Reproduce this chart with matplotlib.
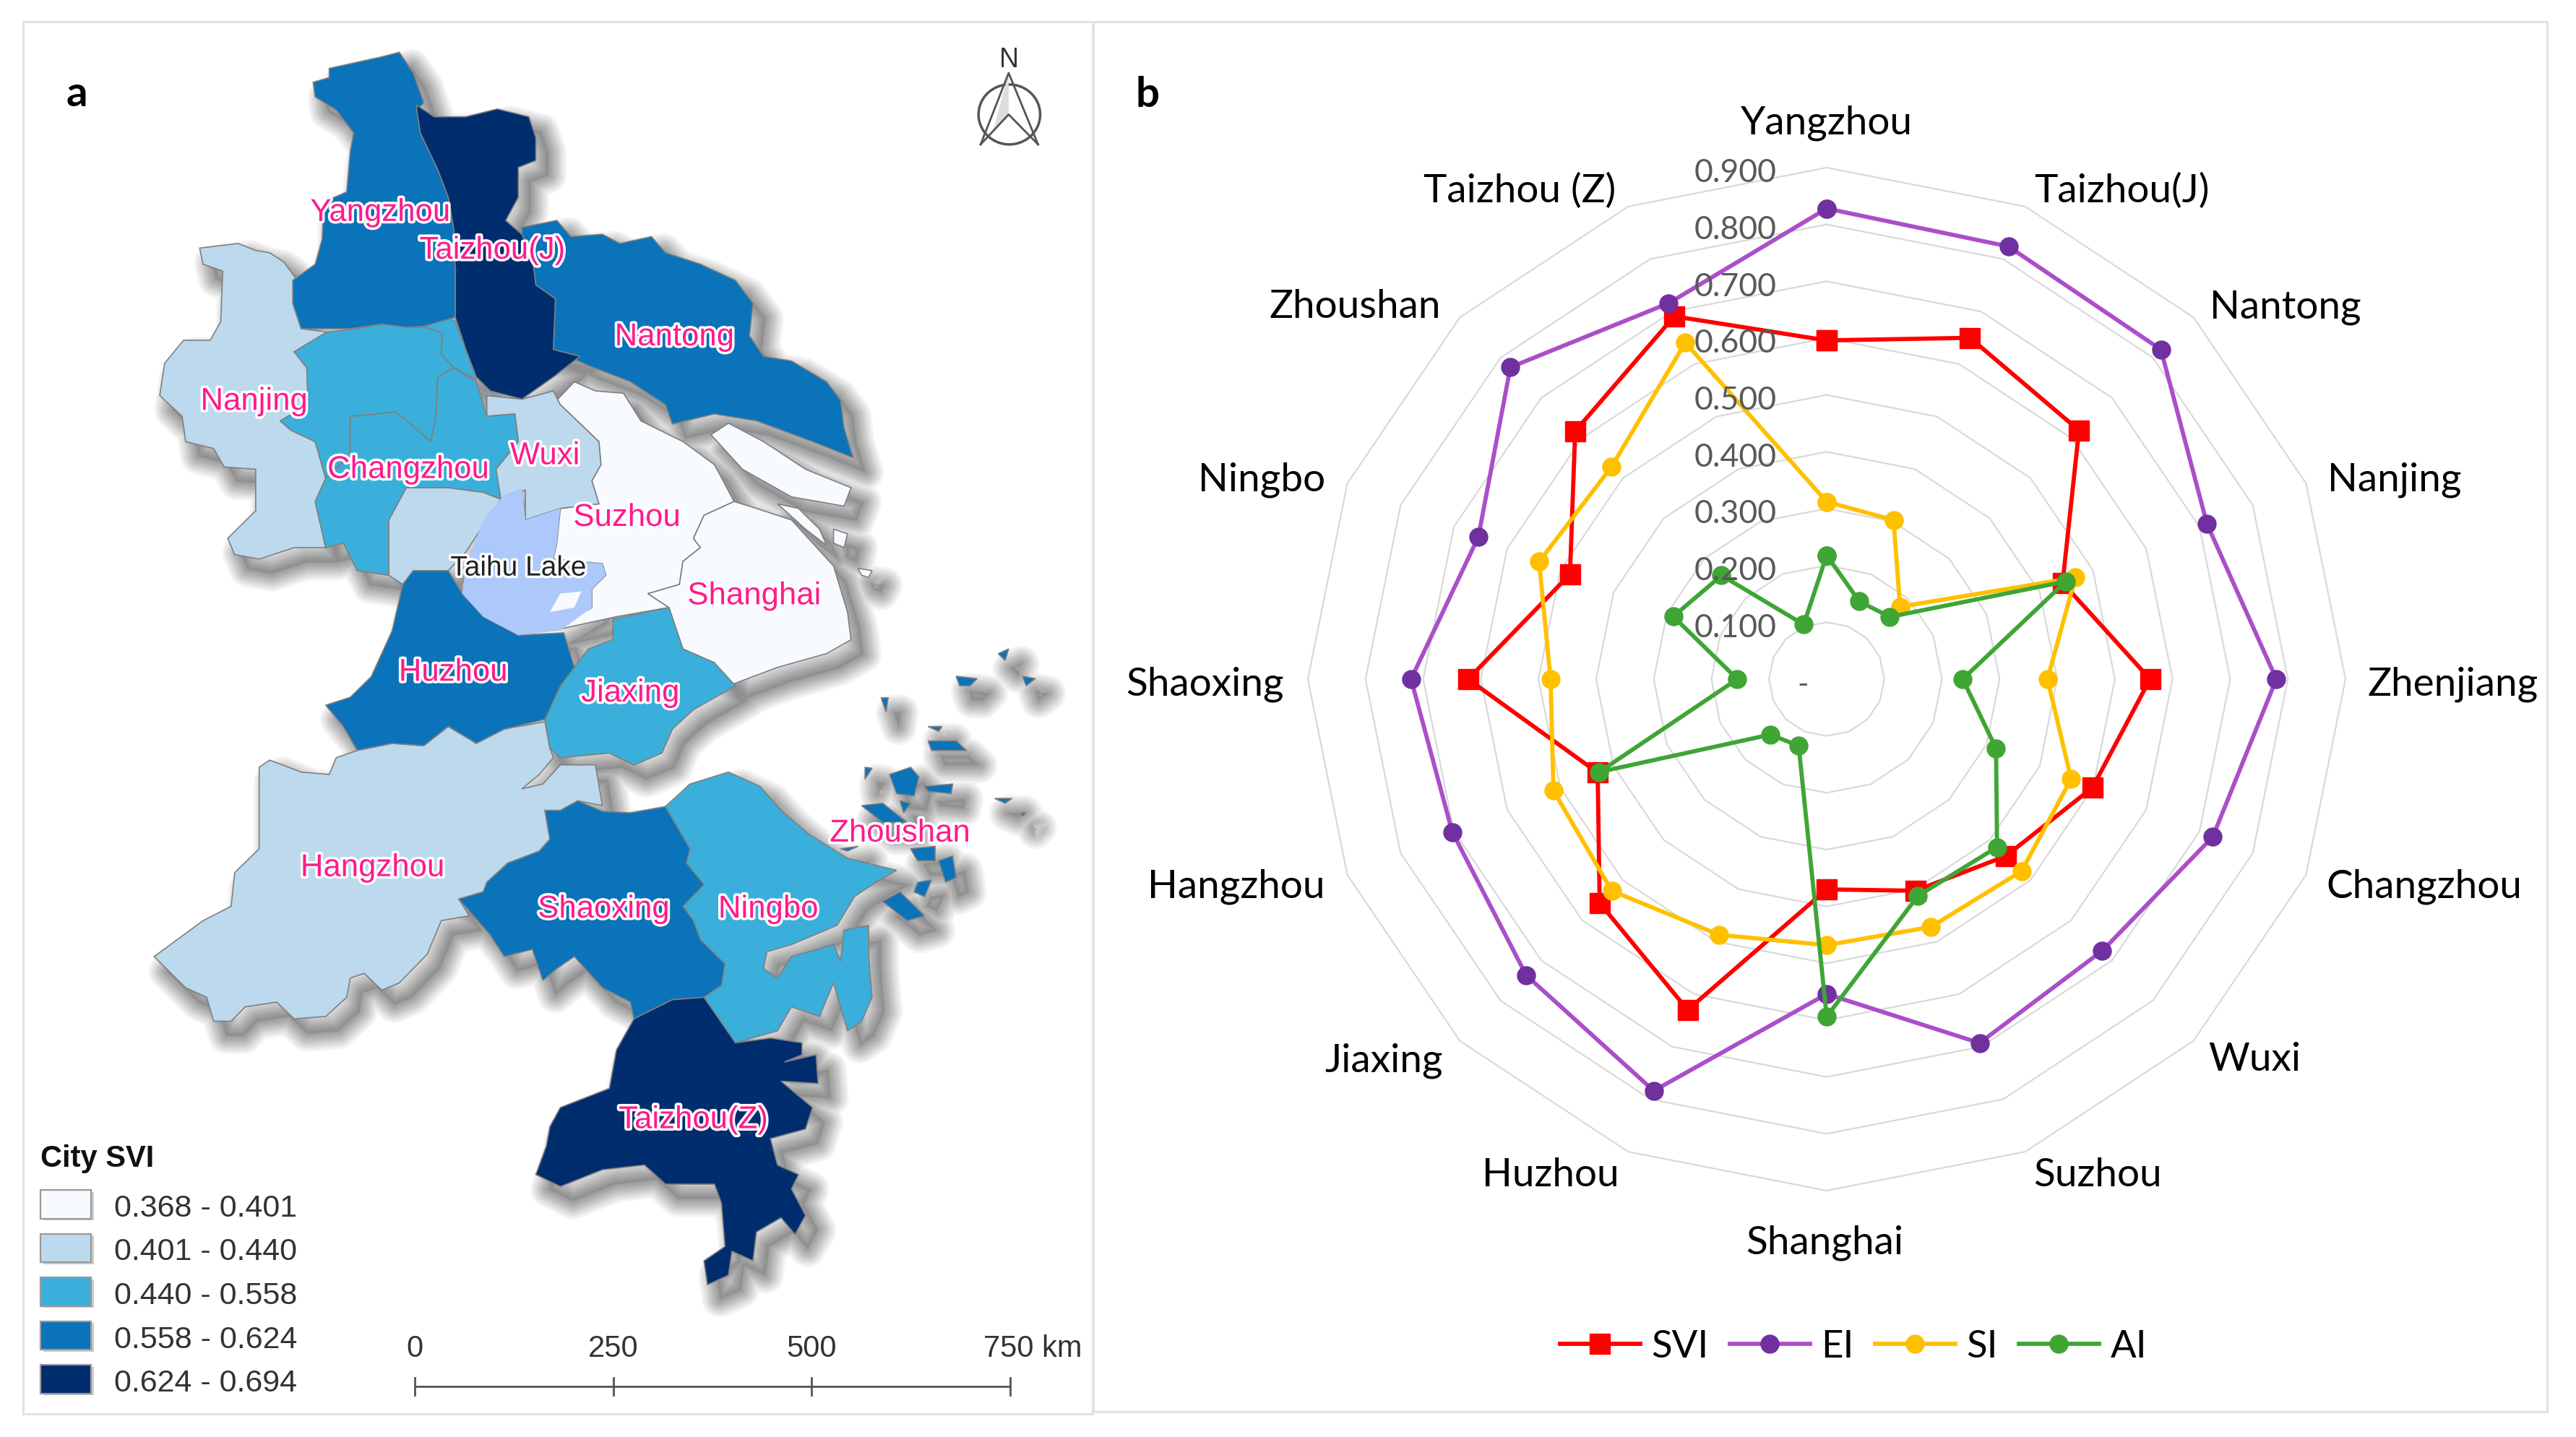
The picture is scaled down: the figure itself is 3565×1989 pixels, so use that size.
import numpy as np
import matplotlib
matplotlib.use('Agg')
import matplotlib.pyplot as plt
from matplotlib.path import Path
from matplotlib.patches import PathPatch, Polygon, Rectangle, Ellipse
import matplotlib.patheffects as pe

W, H = 3566, 1990

# radar data, clockwise from the top
cities = ['Yangzhou', 'Taizhou(J)', 'Nantong', 'Nanjing', 'Zhenjiang', 'Changzhou', 'Wuxi', 'Suzhou',
          'Shanghai', 'Huzhou', 'Jiaxing', 'Hangzhou', 'Shaoxing', 'Ningbo', 'Zhoushan', 'Taizhou (Z)']
svi = [0.596, 0.650, 0.619, 0.443, 0.561, 0.499, 0.440, 0.403, 0.370, 0.630, 0.557, 0.430, 0.622, 0.482, 0.617, 0.691]
ei = [0.828, 0.824, 0.820, 0.714, 0.780, 0.725, 0.676, 0.693, 0.554, 0.784, 0.737, 0.703, 0.721, 0.654, 0.776, 0.716]
si = [0.312, 0.303, 0.180, 0.467, 0.383, 0.459, 0.478, 0.472, 0.468, 0.487, 0.527, 0.513, 0.479, 0.540, 0.528, 0.641]
ai = [0.218, 0.148, 0.155, 0.449, 0.236, 0.318, 0.418, 0.413, 0.594, 0.127, 0.138, 0.427, 0.155, 0.288, 0.258, 0.104]
rings = [0.1, 0.2, 0.3, 0.4, 0.5, 0.6, 0.7, 0.8, 0.9]
label_x = [2528, 2936, 3163, 3314, 3395, 3355, 3120, 2903, 2525, 2146, 1915, 1711, 1667, 1746, 1875, 2103]
label_y = [170, 264, 425, 664, 947, 1227, 1467, 1626, 1720, 1626, 1468, 1227, 947, 664, 425, 264]


def lower(pts):
    return [(x, 1490 + 1.04 * y) for x, y in pts]


# map outlines, in map units
yangzhou = [(470, 150), (545, 125), (570, 115), (590, 160), (605, 225), (595, 240), (600, 290), (625, 370), (640, 430),
            (648, 500), (650, 590), (650, 690), (605, 710), (580, 712), (545, 705), (500, 715), (430, 715), (418, 660),
            (418, 610), (450, 575), (460, 520), (462, 440), (495, 418), (500, 330), (505, 290), (480, 240), (450, 212),
            (447, 180), (470, 170)]
taizhou_j = [(595, 230), (620, 255), (665, 255), (710, 238), (755, 255), (765, 300), (765, 350), (740, 365), (740, 430),
             (722, 480), (745, 510), (760, 560), (765, 620), (793, 650), (790, 760), (828, 775), (790, 820), (745, 868),
             (700, 850), (680, 820), (665, 760), (650, 690), (650, 590), (648, 500), (640, 430), (625, 370), (600, 290),
             (595, 240)]
nantong = [(745, 495), (795, 480), (815, 515), (860, 510), (885, 530), (930, 515), (950, 550), (1000, 575), (1050, 610),
           (1075, 660), (1070, 730), (1090, 775), (1130, 785), (1180, 830), (1200, 870), (1205, 930), (1218, 995),
           (1160, 960), (1080, 915), (1020, 900), (960, 922), (950, 880), (900, 830), (840, 795), (790, 760), (793, 650),
           (765, 620), (760, 560), (745, 510)]
nanjing = [(285, 540), (340, 530), (365, 545), (385, 550), (405, 570), (422, 605), (418, 660), (430, 715), (467, 722),
           (420, 765), (438, 800), (440, 880), (400, 915), (415, 935), (450, 960), (465, 1040), (450, 1090), (465, 1190),
           (420, 1190), (370, 1215), (335, 1205), (325, 1170), (365, 1110), (365, 1020), (320, 1015), (305, 975),
           (265, 960), (260, 905), (228, 860), (235, 790), (262, 740), (300, 740), (315, 700), (318, 590), (290, 575)]
zhenjiang = [(420, 765), (467, 722), (510, 715), (545, 705), (580, 712), (608, 712), (632, 725), (630, 770), (648, 800),
             (625, 820), (622, 910), (615, 960), (565, 895), (540, 900), (500, 905), (500, 990), (465, 1040), (450, 960),
             (415, 935), (400, 915), (440, 880), (438, 800)]
yangzhong = [(608, 712), (628, 680), (650, 700), (665, 760), (680, 825), (648, 800), (630, 770), (632, 725)]
changzhou = [(500, 905), (540, 900), (565, 895), (615, 960), (622, 910), (625, 820), (648, 800), (680, 830), (695, 905),
             (735, 900), (740, 960), (708, 1020), (715, 1085), (690, 1070), (640, 1060), (580, 1060), (555, 1130),
             (555, 1250), (510, 1240), (490, 1180), (465, 1190), (450, 1090), (465, 1040), (500, 990)]
wuxi_n = [(695, 860), (745, 868), (790, 850), (800, 880), (855, 960), (858, 1010), (845, 1045), (855, 1095), (800, 1105),
          (750, 1130), (750, 1065), (715, 1085), (708, 1020), (740, 960), (735, 900), (695, 905)]
wuxi_s = [(580, 1060), (640, 1060), (690, 1070), (715, 1085), (695, 1130), (665, 1200), (640, 1240), (590, 1240),
          (575, 1270), (555, 1250), (555, 1130)]
suzhou = [(795, 870), (820, 830), (850, 850), (890, 855), (915, 915), (975, 960), (1020, 1010), (1048, 1090), (1005, 1120),
          (990, 1170), (1000, 1190), (975, 1220), (970, 1270), (925, 1290), (955, 1320), (880, 1340), (790, 1370),
          (845, 1320), (845, 1280), (865, 1250), (860, 1225), (790, 1215), (795, 1180), (800, 1105), (855, 1095),
          (845, 1045), (858, 1010), (855, 960), (800, 880)]
shanghai = [(1048, 1090), (1080, 1105), (1130, 1130), (1190, 1230), (1210, 1330), (1215, 1390), (1180, 1420), (1110, 1450),
            (1040, 1490), (1020, 1440), (975, 1410), (955, 1320), (925, 1290), (970, 1270), (975, 1220), (1000, 1190),
            (990, 1170), (1005, 1120)]
chongming = [(1015, 945), (1040, 920), (1090, 960), (1150, 1020), (1215, 1060), (1205, 1100), (1130, 1080), (1060, 1020),
             (1030, 970)]
isle_a = [(1110, 1095), (1140, 1105), (1170, 1150), (1180, 1185), (1150, 1150)]
isle_b = [(1190, 1150), (1210, 1160), (1205, 1190), (1190, 1180)]
isle_c = [(1225, 1235), (1245, 1240), (1240, 1255), (1230, 1250)]
huzhou = [(575, 1270), (590, 1240), (640, 1240), (660, 1290), (690, 1340), (740, 1380), (805, 1375), (820, 1450), (800, 1490),
          (778, 1563), (720, 1584), (680, 1615), (640, 1578), (605, 1620), (560, 1615), (510, 1630), (490, 1578),
          (465, 1532), (500, 1515), (530, 1470), (560, 1370)]
jiaxing = [(875, 1345), (955, 1320), (975, 1410), (1020, 1440), (1050, 1490), (990, 1542), (960, 1584), (945, 1636),
           (905, 1662), (870, 1636), (800, 1646), (785, 1625), (778, 1563), (800, 1490), (820, 1450), (840, 1410), (875, 1390)]
hangzhou = lower([(370, 170), (385, 155), (430, 180), (470, 185), (480, 150), (510, 135), (560, 120), (605, 125), (640, 85),
                  (680, 120), (720, 90), (778, 75), (785, 130), (790, 150), (770, 185), (745, 215), (775, 205), (800, 165),
                  (850, 165), (860, 250), (825, 240), (800, 260), (778, 260), (785, 320), (770, 345), (725, 370), (695, 410),
                  (690, 430), (655, 445), (670, 480), (630, 490), (610, 560), (570, 620), (545, 635), (520, 600), (500, 610),
                  (495, 650), (465, 690), (420, 695), (395, 660), (350, 670), (330, 700), (305, 700), (295, 650), (265, 630),
                  (220, 565), (290, 490), (330, 460), (335, 390), (370, 340), (370, 230)])
shaoxing = lower([(778, 260), (800, 260), (825, 240), (860, 262), (900, 265), (950, 252), (965, 290), (985, 340), (980, 370),
                  (1005, 415), (975, 460), (990, 490), (1000, 530), (1035, 580), (1030, 625), (1005, 650), (960, 655),
                  (905, 695), (900, 660), (860, 630), (820, 565), (795, 590), (775, 615), (760, 550), (720, 565), (700, 520),
                  (655, 445), (690, 430), (695, 410), (725, 370), (770, 345), (785, 320)])
ningbo = lower([(950, 252), (985, 205), (1040, 180), (1085, 210), (1115, 260), (1155, 310), (1210, 360), (1280, 385),
                (1250, 410), (1220, 440), (1195, 500), (1130, 540), (1095, 555), (1090, 590), (1110, 610), (1130, 565),
                (1190, 540), (1200, 575), (1205, 510), (1240, 500), (1240, 560), (1245, 650), (1230, 700), (1210, 720),
                (1190, 620), (1170, 690), (1130, 670), (1110, 720), (1050, 745), (1005, 650), (1030, 625), (1035, 580),
                (1000, 530), (990, 490), (975, 460), (1005, 415), (980, 370), (985, 340), (965, 290)])
taizhou_z = lower([(905, 695), (960, 655), (1005, 650), (1050, 745), (1100, 735), (1145, 745), (1145, 770), (1120, 785),
                   (1165, 770), (1168, 830), (1115, 825), (1160, 880), (1150, 925), (1100, 945), (1110, 1000), (1140, 1020),
                   (1130, 1050), (1150, 1105), (1135, 1145), (1115, 1110), (1080, 1140), (1075, 1200), (1045, 1180),
                   (1040, 1230), (1010, 1250), (1005, 1200), (1035, 1170), (1030, 1080), (1020, 1040), (950, 1040), (920, 1000),
                   (860, 1010), (800, 1045), (765, 1020), (780, 960), (785, 920), (800, 880), (870, 840), (880, 760)])
zhoushan = [lower(p) for p in [
    [(1270, 185), (1300, 170), (1312, 190), (1305, 230), (1280, 225)],
    [(1320, 210), (1360, 205), (1358, 225), (1325, 220)],
    [(1230, 250), (1260, 245), (1295, 285), (1260, 285)],
    [(1285, 240), (1300, 245), (1290, 265)],
    [(1300, 340), (1335, 335), (1335, 365), (1310, 365)],
    [(1340, 365), (1360, 355), (1365, 400), (1350, 410)],
    [(1260, 450), (1285, 430), (1320, 480), (1295, 490)],
    [(1310, 410), (1330, 405), (1320, 440), (1305, 430)],
    [(1325, 115), (1365, 115), (1380, 135), (1330, 135)],
    [(1200, 340), (1225, 335), (1210, 345)],
    [(1258, 25), (1268, 25), (1265, 55)],
    [(1325, 85), (1345, 85), (1340, 95)],
    [(1420, 235), (1445, 235), (1435, 245)],
    [(1458, 265), (1465, 265), (1460, 272)],
    [(1235, 170), (1245, 172), (1235, 195)],
    [(1365, -20), (1395, -15), (1385, 0), (1370, 0)],
    [(1425, -67), (1440, -77), (1435, -53)],
    [(1460, -20), (1478, -15), (1465, 0)]]]
taihu = [(745, 1062), (750, 1130), (800, 1105), (795, 1180), (790, 1215), (860, 1225), (865, 1250), (845, 1280), (845, 1320),
         (800, 1370), (740, 1380), (690, 1340), (660, 1290), (665, 1230), (690, 1130), (720, 1075)]
taihu_isle = [(785, 1330), (800, 1290), (830, 1285), (820, 1320)]

class_colors = ['#f7fbff', '#bcd9ee', '#3aafdb', '#0a73b9', '#002d6e']
class_labels = ['0.368 - 0.401', '0.401 - 0.440', '0.440 - 0.558', '0.558 - 0.624', '0.624 - 0.694']
regions = [
    (0, [suzhou, shanghai, chongming, isle_a, isle_b, isle_c]),
    (1, [nanjing, wuxi_n, wuxi_s, hangzhou]),
    (2, [zhenjiang, yangzhong, changzhou, jiaxing, ningbo]),
    (3, [yangzhou, nantong, huzhou, shaoxing] + zhoushan),
    (4, [taizhou_j, taizhou_z]),
]
map_labels = ['Yangzhou', 'Taizhou(J)', 'Nantong', 'Nanjing', 'Changzhou', 'Wuxi', 'Suzhou', 'Shanghai', 'Huzhou', 'Jiaxing',
              'Hangzhou', 'Shaoxing', 'Ningbo', 'Zhoushan', 'Taizhou(Z)']
map_label_x = [543, 703, 963, 363, 583, 778, 895, 1077, 647, 900, 532, 862, 1097, 1285, 990]
map_label_y = [463, 545, 733, 873, 1021, 991, 1125, 1295, 1461, 1506, 1885, 1975, 1975, 1810, 2432]
scale_km = [0, 250, 500, 750]

fig = plt.figure(figsize=(W / 100, H / 100), dpi=100, facecolor='white')

# map panel on a full figure axes
mp = fig.add_axes([0, 0, 1, 1])
mp.set_xlim(0, W * 1.0316)
mp.set_ylim(H * 1.568, 0)
mp.axis('off')

# panel frames
mp.add_patch(Rectangle((33, 48), 1527, 3022, fc='none', ec='#e2e2e2', lw=2.2))
mp.add_patch(Rectangle((1561, 48), 2075, 3017, fc='none', ec='#e2e2e2', lw=2.2))

# soft shadow: stacked strokes shifted to the lower right
all_polys = [np.array(p, float) for _, polys in regions for p in polys]
verts = []
for p in all_polys:
    q = p + [18, 32]
    verts.append(Path(np.vstack([q, q[0]]), closed=True))
shadow = Path.make_compound_path(*verts)
mp.add_patch(PathPatch(shadow, fc='#555555', ec='none', alpha=0.2, zorder=1))
for lw in [36, 32, 28, 24, 21, 18, 15, 12, 9, 6, 3]:
    mp.add_patch(PathPatch(shadow, fc='none', ec='#444444', lw=lw, alpha=0.06, joinstyle='round', zorder=1))

for cls, polys in regions:
    for p in polys:
        mp.add_patch(Polygon(p, closed=True, fc=class_colors[cls], ec='#808080', lw=1.2, zorder=2))
mp.add_patch(Polygon(taihu, closed=True, fc='#adc9fb', ec='none', zorder=3))
mp.add_patch(Polygon(taihu_isle, closed=True, fc='#f7fbff', ec='none', zorder=3))

halo = [pe.withStroke(linewidth=5, foreground='white')]
for name, x, y in zip(map_labels, map_label_x, map_label_y):
    mp.text(x, y, name, color='#ff1a8c', fontsize=31.5, family='Liberation Sans', ha='center', va='center',
            path_effects=halo, zorder=5)
mp.text(740, 1235, 'Taihu Lake', color='#222222', fontsize=28, family='Liberation Sans', ha='center', va='center',
        path_effects=halo, zorder=5)

mp.text(110, 205, 'a', fontsize=42, fontweight='bold', family='Lato', ha='center', va='center', color='black')

# legend of the map
mp.text(58, 2515, 'City SVI', fontsize=30, fontweight='bold', family='Liberation Sans', va='center', color='#111111')
for i, (c, lab) in enumerate(zip(class_colors, class_labels)):
    yc = 2616 + i * 95
    mp.add_patch(Rectangle((62, yc - 28), 72, 62, fc='#999999', ec='none', alpha=0.5, zorder=2))
    mp.add_patch(Rectangle((58, yc - 32), 72, 62, fc=c, ec='#999999', lw=1.6, zorder=3))
    mp.text(163, yc + 7, lab, fontsize=31, family='Liberation Sans', va='center', color='#333333')

# scale bar
bar_x = np.interp(scale_km, [0, 750], [592, 1442])
mp.plot(bar_x[[0, -1]], [3010, 3010], color='#555555', lw=2)
for x, km in zip(bar_x, scale_km):
    mp.plot([x, x], [2991, 3029], color='#555555', lw=2)
    if km == 750:
        mp.text(x - 38, 2928, '750 km', fontsize=30, family='Liberation Sans', va='center', color='#333333')
    else:
        mp.text(x, 2928, str(km), fontsize=30, family='Liberation Sans', ha='center', va='center', color='#333333')

# north arrow
mp.text(1440, 130, 'N', fontsize=27, family='Liberation Sans', ha='center', va='center', color='#333333')
mp.add_patch(Ellipse((1441, 250), 88, 130, fc='none', ec='#555555', lw=2.5))
mp.plot([1400, 1440, 1482], [315, 160, 315], color='#555555', lw=2)
mp.plot([1400, 1440, 1482], [315, 250, 315], color='#555555', lw=2)
mp.add_patch(Polygon([(1440, 160), (1440, 250), (1418, 285)], closed=True, fc='#dddddd', ec='none'))

# radar panel
cx, cy, rx, ry = 2528, 941, 718, 708
ax = fig.add_axes([(cx - rx) / W, 1 - (cy + ry) / H, 2 * rx / W, 2 * ry / H], projection='polar')
ax.set_theta_zero_location('N')
ax.set_theta_direction(-1)
ax.set_rlim(0, 0.9)
ax.set_aspect('auto')
ax.patch.set_alpha(0)
ax.grid(False)
ax.spines['polar'].set_visible(False)
ax.set_xticks([])
ax.set_yticks([])

theta = np.arange(len(cities)) * 2 * np.pi / len(cities)
closed = np.append(theta, theta[0])
for r in rings:
    ax.plot(closed, [r] * len(closed), color='#d9d9d9', lw=1.6, zorder=1, clip_on=False)
    ax.annotate('%.3f' % r, (0, r), xytext=(-50, -5), textcoords='offset points', ha='right', va='center',
                fontsize=32, family='Lato', color='#595959', zorder=6)
ax.annotate('-', (0, 0), xytext=(-18, -5), textcoords='offset points', ha='right', va='center', fontsize=30,
            family='Lato', color='#595959')

series = [('SVI', svi, '#ff0000', '#ff0000', 's', 20), ('EI', ei, '#aa4fc9', '#7030a0', 'o', 18),
          ('SI', si, '#ffc000', '#ffc000', 'o', 18), ('AI', ai, '#3fa535', '#3fa535', 'o', 18)]
handles = []
for name, vals, lc, mc, mk, ms in series:
    h, = ax.plot(closed, vals + vals[:1], color=lc, lw=4.2, marker=mk, ms=ms, mfc=mc, mec=mc, label=name,
                 zorder=3, clip_on=False)
    handles.append(h)

for name, x, y in zip(cities, label_x, label_y):
    fig.text(x / W, 1 - y / H, name, fontsize=39.5, family='Lato', ha='center', va='center', color='black')
fig.text(1588 / W, 1 - 131 / H, 'b', fontsize=42, fontweight='bold', family='Lato', ha='center', va='center', color='black')

fig.legend(handles=handles, loc='center', bbox_to_anchor=(2565 / W, 1 - 1865 / H), ncol=4, frameon=False,
           prop={'family': 'Lato', 'size': 38}, handlelength=2.1, handletextpad=0.3, columnspacing=0.55)

fig.savefig('out.png', dpi=100, facecolor='white')
